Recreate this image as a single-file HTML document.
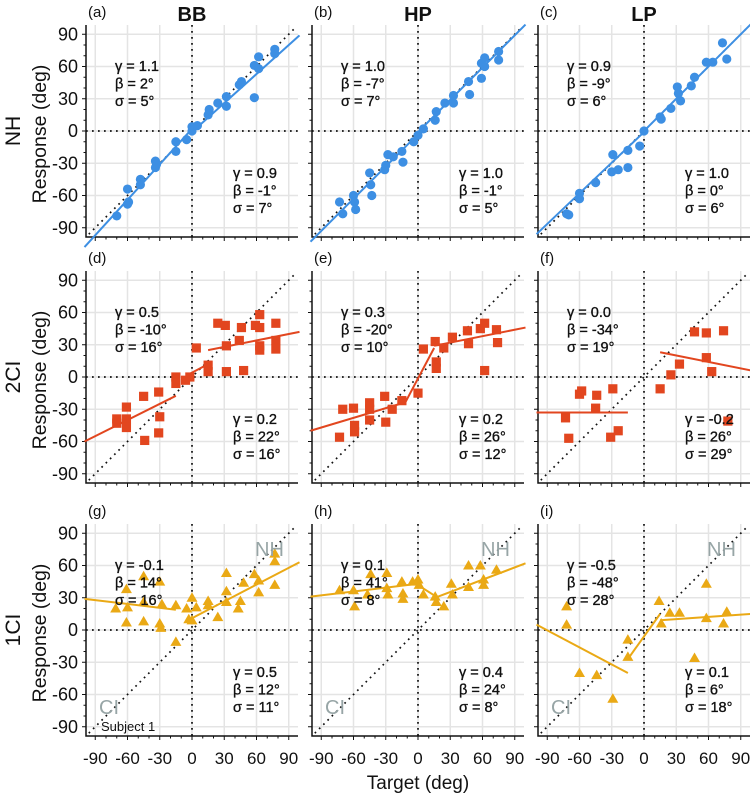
<!DOCTYPE html>
<html><head><meta charset="utf-8"><style>
html,body{margin:0;padding:0;background:#fff;}
svg{display:block;font-family:"Liberation Sans",sans-serif;}
</style></head><body>
<svg id="fig" width="750" height="794" viewBox="0 0 750 794"></svg>
<script>
// ---- data (degrees) ----
const aX=[-70,-60,-60,-59,-48,-48,-34,-34,-33,-15,-15,-5,0,0,5,15,16,24,32,32,44,46,58,62,62,58,77,77];
const aY=[-79,-54,-68,-66,-45,-50,-28,-34,-31,-10,-19,-8,4,0,5,15,20,26,32,23,43,46,61,69,58,31,76,72];
const bX=[-73,-70,-60,-59,-58,-45,-44,-43,-31,-28,-23,-30,-15,-14,-4,0,5,16,17,25,33,33,47,48,59,62,59,62,75,75];
const bY=[-66,-77,-60,-66,-73,-39,-50,-60,-36,-22,-24,-32,-19,-29,-10,-4,2,10,18,26,33,26,46,34,63,68,49,60,74,66];
const cX=[-72,-70,-60,-60,-45,-29,-30,-24,-15,-15,-4,0,15,16,25,31,32,34,44,47,58,64,73,77];
const cY=[-77,-78,-58,-63,-48,-22,-38,-36,-18,-34,-14,0,13,11,21,41,35,28,42,50,64,64,82,67];
const dX=[-70,-70,-61,-61,-61,-45,-44,-31,-30,-31,-15,-15,-6,-2,4,15,15,24,31,32,32,44,46,48,59,63,63,63,63,78,78,78];
const dY=[-39,-43,-28,-39,-47,-18,-59,-14,-37,-52,0,-6,-3,0,27,11,5,50,48,29,5,34,46,6,48,58,46,29,25,50,34,26];
const eX=[-73,-70,-60,-59,-59,-45,-45,-45,-31,-30,-24,-15,0,5,16,17,17,24,32,46,47,58,62,62,73,74];
const eY=[-56,-30,-29,-45,-51,-24,-30,-40,-18,-42,-30,-22,-15,26,33,14,8,27,37,43,31,45,50,6,44,32];
const fX=[-73,-70,-60,-58,-44,-45,-29,-31,-24,15,25,33,47,58,58,63,74,78];
const fY=[-38,-57,-16,-13,-17,-29,-11,-56,-50,-11,2,12,42,41,18,5,43,-41];
const gX=[-71,-61,-60,-61,-45,-45,-45,-30,-30,-29,-28,-15,-15,-5,-3,0,0,4,15,15,24,32,32,32,43,45,48,58,62,62,77,77,77];
const gY=[20,38,21,7,50,26,8,45,6,2,24,23,-11,20,10,30,9,21,27,23,12,53,36,26,20,27,44,52,46,35,71,64,42];
const hX=[-73,-60,-59,-44,-47,-29,-29,-28,-15,-14,-14,-5,0,1,5,16,17,24,31,32,47,47,58,61,61,73];
const hY=[37,37,22,52,33,53,39,33,45,34,29,45,47,42,33,31,26,22,43,33,60,40,60,47,42,56];
const iX=[-72,-72,-60,-44,-29,-15,-15,14,16,24,33,47,58,58,74,77];
const iY=[22,5,-40,-42,-64,-9,-25,27,6,16,16,-26,43,11,6,17];
// fit lines: [gamma, beta, xStart, xEnd] for left and right branches
const fitLeftA=[1.1,2,-100,0],   fitRightA=[0.9,-1,0,100];
const fitLeftB=[1.0,-3,-100,0],  fitRightB=[1.0,-1,0,100];
const fitLeftC=[0.95,-1,-100,0], fitRightC=[1.0,0,0,100];
const fitLeftD=[0.5,-10,-100,-15], fitRightD=[0.2,22,15,100];
const fitLeftE=[0.3,-20,-100,-12], fitRightE=[0.2,26,15,100];
const fitLeftF=[0.0,-33,-100,-15], fitRightF=[-0.2,26,15,100];
const fitLeftG=[-0.12,17,-100,-15], fitRightG=[0.52,11,-5,100];
const fitLeftH=[0.12,43,-100,-2], fitRightH=[0.38,24,17,100];
const fitLeftI=[-0.53,-48,-100,-15], fitRightI=[0.07,8,15,100];
// connector segments [x0,y0,x1,y1]
const linkD=[-2,3,15,12];
const linkE=[-12,-24,15,27];
const linkH=[-2,43,17,31];
const linkI=[-15,-27,15,15];
const statsUL=[["1.1","2","5"],["1.0","-7","7"],["0.9","-9","6"],["0.5","-10","16"],["0.3","-20","10"],["0.0","-34","19"],["-0.1","14","16"],["0.1","41","8"],["-0.5","-48","28"]];
const statsLR=[["0.9","-1","7"],["1.0","-1","5"],["1.0","0","6"],["0.2","22","16"],["0.2","26","12"],["-0.2","26","29"],["0.5","12","11"],["0.4","24","8"],["0.1","6","18"]];
const ticks=[-90,-60,-30,0,30,60,90];
const panelLetters=["a","b","c","d","e","f","g","h","i"];
const colTitles=["BB","HP","LP"];
const rowTitles=["NH","2CI","1CI"];

const NS="http://www.w3.org/2000/svg";
const svg=document.getElementById('fig');
function mk(tag,attrs,parent,text){const e=document.createElementNS(NS,tag);for(const k in attrs)e.setAttribute(k,attrs[k]);if(text!==undefined)e.textContent=text;(parent||svg).appendChild(e);return e;}

const colL=[86,312,538];
const rowC=[131,377,630];
const S=1.075, W=212;
const colors=["#3d8fe3","#e2461f","#eaa915"];
const panelsX=[aX,bX,cX,dX,eX,fX,gX,hX,iX];
const panelsY=[aY,bY,cY,dY,eY,fY,gY,hY,iY];
const fitsL=[fitLeftA,fitLeftB,fitLeftC,fitLeftD,fitLeftE,fitLeftF,fitLeftG,fitLeftH,fitLeftI];
const fitsR=[fitRightA,fitRightB,fitRightC,fitRightD,fitRightE,fitRightF,fitRightG,fitRightH,fitRightI];
const links=[null,null,null,linkD,linkE,null,null,linkH,linkI];

for(let r=0;r<3;r++){
  for(let c=0;c<3;c++){
    const k=r*3+c, L=colL[c], C=rowC[r];
    const sx=v=>L+106+v*S, sy=v=>C-v*S;
    const g=mk('g',{});
    
    
    ticks.forEach(t=>{
      const gl=mk('line',{x1:sx(t),x2:sx(t),y1:C-106,y2:C+106,stroke:'#e4e4e4','stroke-width':1.5},g);
      
      const gh=mk('line',{x1:L,x2:L+W,y1:sy(t),y2:sy(t),stroke:'#e4e4e4','stroke-width':1.5},g);
      
    });
    const dot={stroke:'#111','stroke-width':1.7,'stroke-dasharray':'1.7 4.3',fill:'none'};
    const d1=mk('line',Object.assign({x1:L,x2:L+W,y1:C,y2:C},dot),g);
    
    const d2=mk('line',Object.assign({x1:sx(0),x2:sx(0),y1:C-106,y2:C+106},dot),g);
    
    const d3=mk('line',Object.assign({x1:sx(-96),y1:sy(-96),x2:sx(96),y2:sy(96)},dot),g);
    
    const ax=mk('path',{d:`M${L} ${C-106}V${C+106}H${L+W}`,stroke:'#111','stroke-width':1.5,fill:'none'},g);
    
    for(let t=-90;t<=90;t+=10){
      const maj=t%30===0, len=maj?4:2.5;
      const tx=mk('line',{x1:sx(t),x2:sx(t),y1:C+106,y2:C+106+len,stroke:'#111','stroke-width':1},g);
      
      const ty=mk('line',{x1:L,x2:L-len,y1:sy(t),y2:sy(t),stroke:'#111','stroke-width':1},g);
      
    }
    const col=colors[r];
    [fitsL[k],fitsR[k]].forEach(f=>{
      const ln=mk('line',{x1:sx(f[2]),y1:sy(f[0]*f[2]+f[1]),x2:sx(f[3]),y2:sy(f[0]*f[3]+f[1]),stroke:col,'stroke-width':2},g);
      
    });
    if(links[k]){const q=links[k];
      const ln=mk('line',{x1:sx(q[0]),y1:sy(q[1]),x2:sx(q[2]),y2:sy(q[3]),stroke:col,'stroke-width':2},g);
      }
    const xs=panelsX[k], ys=panelsY[k];
    xs.forEach((xv,i)=>{
      const px=sx(xv), py=sy(ys[i]); let m;
      if(r===0) m=mk('circle',{cx:px,cy:py,r:4.6,fill:col},g);
      else if(r===1) m=mk('rect',{x:px-4.6,y:py-4.6,width:9.2,height:9.2,fill:col},g);
      else m=mk('polygon',{points:`${px},${py-5.5} ${px-5.5},${py+4} ${px+5.5},${py+4}`,fill:col},g);
      
      
    });
    const ts={'font-size':14.5,fill:'#111',stroke:'#111','stroke-width':0.35};
    const ul=statsUL[k], lr=statsLR[k];
    const tl=["γ = "+ul[0],"β = "+ul[1]+"°","σ = "+ul[2]+"°"];
    const tr=["γ = "+lr[0],"β = "+lr[1]+"°","σ = "+lr[2]+"°"];
    tl.forEach((s,i)=>{const t=mk('text',Object.assign({x:L+29,y:C-60+i*17.5},ts),g,s);
      });
    tr.forEach((s,i)=>{const t=mk('text',Object.assign({x:L+147,y:C+47+i*17.5},ts),g,s);
      });
    const pl=mk('text',{x:L+2,y:C-114,'font-size':15,fill:'#111'},g,'('+panelLetters[k]+')');
    
    if(r===2){
      const nh=mk('text',{x:L+169,y:C-74,'font-size':20,fill:'#97a5a6'},g,'NH');
      
      const ci=mk('text',{x:L+13,y:C+84,'font-size':20,fill:'#97a5a6'},g,'CI');
      
      ticks.forEach(t=>{const tt=mk('text',{x:sx(t),y:C+134,'font-size':17,fill:'#111','text-anchor':'middle'},g,String(t));
        });
    }
    if(c===0){
      ticks.forEach(t=>{const tt=mk('text',{x:78,y:sy(t)+6,'font-size':18,fill:'#111','text-anchor':'end'},g,String(t));
        });
      const yt=mk('text',{x:0,y:0,'font-size':19.5,fill:'#111','text-anchor':'middle',transform:`translate(46 ${C+3}) rotate(-90)`},g,'Response (deg)');
      
      const rt=mk('text',{x:0,y:0,'font-size':21,fill:'#111','text-anchor':'middle',transform:`translate(20 ${C}) rotate(-90)`},g,rowTitles[r]);
      
    }
    if(r===0){
      const ct=mk('text',{x:L+106,y:21,'font-size':20,'font-weight':'bold',fill:'#111','text-anchor':'middle'},g,colTitles[c]);
      
    }
    if(k===6){
      const st=mk('text',{x:L+15,y:C+101,'font-size':13,fill:'#111'},g,'Subject 1');
      
    }
  }
}
const xt=mk('text',{x:418,y:789,'font-size':19,fill:'#111','text-anchor':'middle'},svg,'Target (deg)');


</script>
</body></html>
